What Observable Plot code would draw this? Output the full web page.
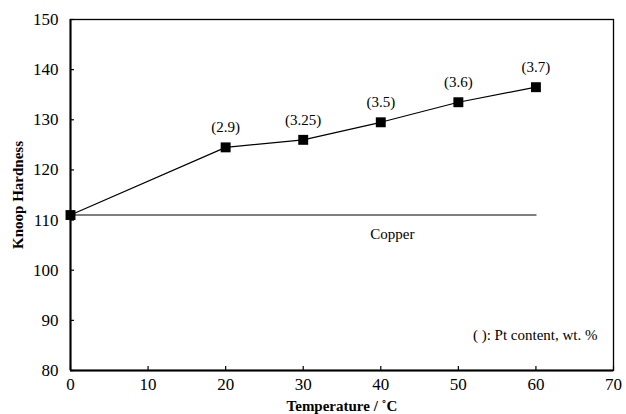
<!DOCTYPE html>
<html>
<head>
<meta charset="utf-8">
<script src="https://cdn.jsdelivr.net/npm/d3@7"></script>
<script src="https://cdn.jsdelivr.net/npm/@observablehq/plot@0.6"></script>
<style>
  html, body { margin: 0; padding: 0; background: #fff; }
</style>
</head>
<body>
<div id="chart"></div>
<script>
const temperatures = [0, 20, 30, 40, 50, 60];
const hardness = [111, 124.5, 126, 129.5, 133.5, 136.5];
const ptLabels = ["", "(2.9)", "(3.25)", "(3.5)", "(3.6)", "(3.7)"];
const copperX = [0, 60];
const copperHardness = 111;
const copperLabel = {x: 41.5, y: 107.2, text: "Copper"};
const noteText = "( ): Pt content, wt. %";
const xTicks = [0, 10, 20, 30, 40, 50, 60, 70];
const yTicks = [80, 90, 100, 110, 120, 130, 140, 150];

const points = temperatures.map((t, i) => ({t, h: hardness[i], label: ptLabels[i]}));
const copper = copperX.map(t => ({t, h: copperHardness}));
const FF = "Liberation Serif";

const chart = Plot.plot({
  width: 626,
  height: 414,
  marginLeft: 70,
  marginRight: 13,
  marginTop: 19,
  marginBottom: 44,
  style: {fontFamily: "'Liberation Serif', serif", background: "#fff", fontSize: "16px"},
  x: {domain: [0, 70]},
  y: {domain: [80, 150]},
  marks: [
    Plot.frame({stroke: "#000", strokeWidth: 1.3}),
    Plot.axisX(xTicks, {tickSize: -4, tickFormat: () => "", stroke: "#000", strokeWidth: 1.2, label: null}),
    Plot.axisY(yTicks, {tickSize: -4, tickFormat: () => "", stroke: "#000", strokeWidth: 1.2, label: null}),
    Plot.axisX(xTicks, {tickSize: 0, tickPadding: 7, fontSize: 17, fontFamily: FF, fill: "#000", label: "Temperature / ˚C", labelAnchor: "center", labelOffset: 40, labelArrow: "none"}),
    Plot.axisY(yTicks, {tickSize: 0, tickPadding: 12, fontSize: 17, fontFamily: FF, fill: "#000", label: "Knoop Hardness", labelAnchor: "center", labelOffset: 58, labelArrow: "none"}),
    Plot.ruleX([0], {stroke: "#000", strokeWidth: 2}),
    Plot.ruleY([80], {stroke: "#000", strokeWidth: 2}),
    Plot.line(copper, {x: "t", y: "h", stroke: "#555", strokeWidth: 1.5}),
    Plot.text([copperLabel], {x: "x", y: "y", text: "text", fontSize: 15, fontFamily: FF, fill: "#000"}),
    Plot.line(points, {x: "t", y: "h", stroke: "#000", strokeWidth: 1.2}),
    Plot.dot(points, {x: "t", y: "h", symbol: "square", r: 5.6, fill: "#000", stroke: "none"}),
    Plot.text(points, {x: "t", y: "h", text: "label", dy: -20, fontSize: 15, fontFamily: FF, fill: "#000"}),
    Plot.text([noteText], {frameAnchor: "bottom-right", dx: -16, dy: -31, textAnchor: "end", fontSize: 15, fontFamily: FF, fill: "#000"})
  ]
});

chart.querySelectorAll("text").forEach(t => { t.style.fontFamily = "'Liberation Serif', serif"; });
chart.querySelectorAll("[aria-label='x-axis label'] text, [aria-label='y-axis label'] text").forEach(t => {
  t.style.fontWeight = "bold";
  t.style.fontSize = "15px";
});
document.getElementById("chart").appendChild(chart);
</script>
</body>
</html>
